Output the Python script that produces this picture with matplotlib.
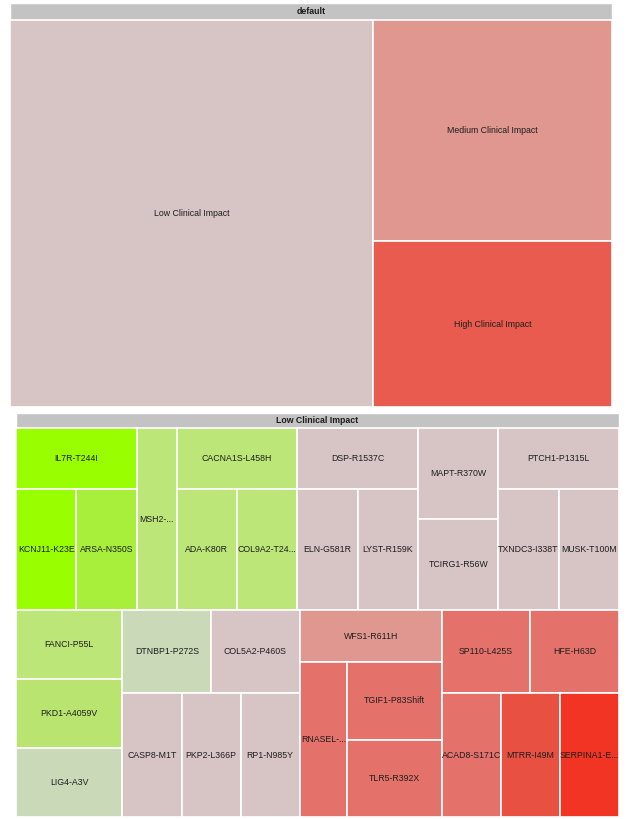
import matplotlib
matplotlib.use("Agg")
import matplotlib.pyplot as plt
from matplotlib.patches import Rectangle

plt.rcParams['font.family'] = ['Liberation Sans', 'DejaVu Sans']

# top treemap: number of variants in each impact class
impact_labels = ["Low Clinical Impact", "Medium Clinical Impact", "High Clinical Impact"]
impact_counts = [32, 12, 9]
impact_colors = ["#d7c4c4", "#df978f", "#e85b4e"]

# bottom treemap: variants of the low impact class (all same size)
variants = ["IL7R-T244I", "KCNJ11-K23E", "ARSA-N350S", "MSH2-...",
            "CACNA1S-L458H", "ADA-K80R", "COL9A2-T24...",
            "DSP-R1537C", "ELN-G581R", "LYST-R159K",
            "MAPT-R370W", "TCIRG1-R56W",
            "PTCH1-P1315L", "TXNDC3-I338T", "MUSK-T100M",
            "FANCI-P55L", "PKD1-A4059V", "LIG4-A3V",
            "DTNBP1-P272S", "COL5A2-P460S", "CASP8-M1T", "PKP2-L366P", "RP1-N985Y",
            "WFS1-R611H", "RNASEL-...", "TGIF1-P83Shift", "TLR5-R392X",
            "SP110-L425S", "HFE-H63D", "ACAD8-S171C", "MTRR-I49M", "SERPINA1-E..."]
variant_values = [1, 1, 1, 1,
                  1, 1, 1,
                  1, 1, 1,
                  1, 1,
                  1, 1, 1,
                  1, 1, 1,
                  1, 1, 1, 1, 1,
                  1, 1, 1, 1,
                  1, 1, 1, 1, 1]
variant_colors = ["#99ff00", "#99ff00", "#a7ef3b", "#bce678",
                  "#bce678", "#bce678", "#bce678",
                  "#d7c4c4", "#d7c4c4", "#d7c4c4",
                  "#d7c4c4", "#d7c4c4",
                  "#d7c4c4", "#d7c4c4", "#d7c4c4",
                  "#bce678", "#b9e470", "#cad9b8",
                  "#cad9b8", "#d7c4c4", "#d7c4c4", "#d7c4c4", "#d7c4c4",
                  "#df978f", "#e4726a", "#e4726a", "#e4726a",
                  "#e4726a", "#e4726a", "#e4726a", "#e85041", "#f23424"]

# nesting of the groups: ("h", ...) splits left-right, ("v", ...) top-bottom
top_tree = ("h", [0, ("v", [1, 2])])
low_tree = ("v", [
    ("h", [("v", [0, ("h", [1, 2])]), 3,
           ("v", [4, ("h", [5, 6])]),
           ("v", [7, ("h", [8, 9])]),
           ("v", [10, 11]),
           ("v", [12, ("h", [13, 14])])]),
    ("h", [("v", [15, 16, 17]),
           ("v", [("h", [18, 19]), ("h", [20, 21, 22])]),
           ("v", [23, ("h", [24, ("v", [25, 26])])]),
           ("v", [("h", [27, 28]), ("h", [29, 30, 31])])])])


def size(node, vals):
    if isinstance(node, int):
        return vals[node]
    return sum(size(k, vals) for k in node[1])


def layout(node, vals, x, y, w, h, out):
    if isinstance(node, int):
        out.append((node, x, y, w, h))
        return
    d, kids = node
    tot = float(size(node, vals))
    pos = 0.0
    for k in kids:
        s = size(k, vals) / tot
        if d == "h":
            layout(k, vals, x + pos * w, y, s * w, h, out)
        else:
            layout(k, vals, x, y + pos * h, w, s * h, out)
        pos += s


def draw_map(ax, title, tree, labels, vals, colors, x, y, w, h, head):
    ax.add_patch(Rectangle((x, y), w, head, facecolor="#c3c3c3",
                           edgecolor="white", lw=1))
    ax.text(x + w / 2, y + head / 2, title, ha="center", va="center",
            fontsize=6.3, fontweight="bold", color="#1a1a1a")
    cells = []
    layout(tree, vals, x, y + head, w, h - head, cells)
    for i, cx, cy, cw, ch in cells:
        ax.add_patch(Rectangle((cx, cy), cw, ch, facecolor=colors[i],
                               edgecolor="white", lw=1.2))
        ax.text(cx + cw / 2, cy + ch / 2, labels[i], ha="center", va="center",
                fontsize=6.3, color="#1e1e1e")


fig = plt.figure(figsize=(6.3, 8.19), dpi=100)
ax = fig.add_axes([0, 0, 1, 1])
ax.set_xlim(0, 630)
ax.set_ylim(819, 0)
ax.axis("off")

draw_map(ax, "default", top_tree, impact_labels, impact_counts, impact_colors,
         10, 3, 602, 404, 17)
draw_map(ax, "Low Clinical Impact", low_tree, variants, variant_values,
         variant_colors, 16, 413, 603, 404, 15)

fig.savefig("out.png", dpi=100)
